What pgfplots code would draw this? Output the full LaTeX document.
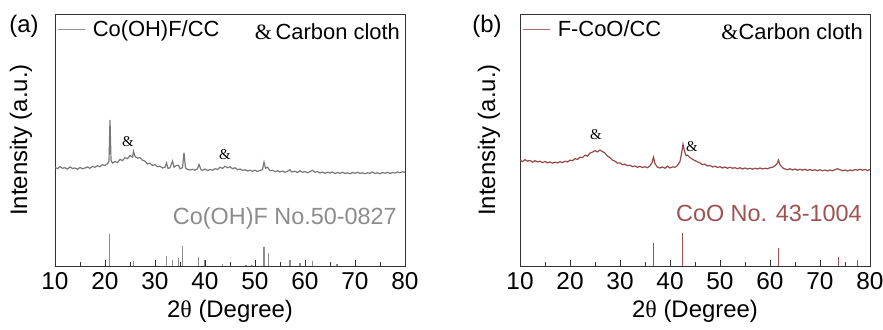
\documentclass[border=0pt]{standalone}
\usepackage{fontspec}
\setmainfont{Liberation Sans}
\newfontfamily\seriff{Liberation Serif}
\usepackage{pgfplots}
\pgfplotsset{compat=1.18}
\definecolor{cgray}{RGB}{120,120,120}
\definecolor{tgray}{RGB}{140,140,140}
\definecolor{cbrown}{RGB}{150,72,72}
\definecolor{tbrown}{RGB}{158,82,82}
\definecolor{axc}{RGB}{50,50,50}
\pgfplotsset{xrd/.style={
  scale only axis, width=350bp, height=252bp,
  xmin=10, xmax=80, ymin=0, ymax=100,
  ytick=\empty, xtick={10,20,...,80}, minor x tick num=1,
  xtick pos=bottom, tick align=inside,
  major tick length=6bp, minor tick length=3.5bp,
  axis line style={axc, line width=0.8pt},
  every tick/.style={axc, line width=0.8pt},
  /pgf/number format/assume math mode=true,
  tick label style={font=\fontsize{24.5}{24.5}\selectfont, text=black},
  xticklabel style={yshift=-3bp},
  xlabel={2{\seriff θ} (Degree)},
  xlabel style={font=\fontsize{24}{24}\selectfont, yshift=-4bp},
  ylabel={Intensity (a.u.)},
  ylabel style={font=\fontsize{24}{24}\selectfont, anchor=center},
  legend style={draw=none, fill=none, font=\fontsize{22}{22}\selectfont,
    at={(axis description cs:0.005,0.985)}, anchor=north west, inner sep=1pt},
  legend image code/.code={\draw[#1, line width=0.5pt, opacity=0.8] (2bp,0bp) -- (29bp,0bp); \path (34bp,0bp);},
}}
\begin{document}
\begin{tikzpicture}
\useasboundingbox (0,0) rectangle (883bp,330bp);
\begin{axis}[xrd, at={(55bp,64bp)}, anchor=south west,
  ylabel style={at={(axis description cs:-0.097,0.5)}}]
\addplot[cgray, line width=1.2pt] coordinates {
(10,39.2)(10.5,38.6)(11,39.4)(11.5,38.8)(12,39.0)(12.5,38.5)(13,39.3)(13.5,38.7)(14,38.9)(14.5,38.4)
(15,39.1)(15.5,38.6)(16,38.9)(16.5,39.3)(17,38.8)(17.5,39.5)(18,39.2)(18.5,39.8)(19,39.4)(19.5,40.2)
(20,39.9)(20.5,40.6)(20.8,41.5)(21.0,58.0)(21.2,42.0)(21.5,40.8)(22,41.5)(22.5,41.0)(23,42.3)(23.5,41.8)
(24,43.0)(24.5,42.6)(25,43.8)(25.5,43.2)(25.7,45.5)(26,43.5)(26.5,42.8)(27,43.0)(27.5,42.0)(28,41.6)
(28.5,40.5)(29,40.8)(29.5,39.9)(30,40.2)(30.5,39.4)(31,39.6)(31.5,38.9)(32,39.2)(32.3,40.9)(32.6,38.7)
(33,39.0)(33.5,41.6)(33.8,39.2)(34.2,39.8)(34.7,40.0)(35,38.6)(35.5,39.0)(35.8,45.0)(36.1,38.9)(36.5,38.3)
(37,38.1)(37.5,38.4)(38,38.0)(38.5,38.6)(38.8,40.3)(39.2,38.2)(39.6,38.0)(40,38.5)(40.5,37.9)(41,38.3)
(41.5,38.0)(42,38.6)(42.5,38.3)(43,39.2)(43.5,38.7)(44,39.6)(44.5,39.0)(45,39.4)(45.5,38.6)(46,39.0)
(46.5,38.2)(47,38.5)(47.5,37.9)(48,38.2)(48.5,37.7)(49,38.0)(49.5,37.6)(50,38.0)(50.5,37.5)(51,37.9)
(51.5,38.2)(51.8,41.2)(52.1,38.8)(52.5,39.2)(52.8,38.4)(53,37.8)(53.5,38.0)(54,37.4)(54.5,37.8)(55,37.3)
(55.5,37.7)(56,37.2)(56.5,37.6)(57,38.2)(57.3,37.3)(58,37.6)(58.5,37.1)(59,37.8)(59.5,37.2)(60,37.5)
(60.5,37.0)(61,37.4)(61.5,38.0)(62,37.2)(62.5,37.5)(63,36.9)(63.5,37.3)(64,36.8)(64.5,37.2)(65,36.9)
(65.5,37.3)(66,36.7)(66.5,37.1)(67,36.8)(67.5,37.2)(68,36.7)(68.5,37.0)(69,36.6)(69.5,37.1)(70,36.8)
(70.5,37.2)(71,36.7)(71.5,37.0)(72,36.6)(72.5,37.0)(73,36.8)(73.5,37.3)(74,36.7)(74.5,37.0)(75,36.6)
(75.5,37.1)(76,36.8)(76.5,37.2)(77,36.7)(77.5,37.1)(78,36.9)(78.5,37.3)(79,37.0)(79.5,37.4)(80,37.2)
};
\addlegendentry{Co(OH)F/CC}
\addplot[tgray, ycomb, line width=1.2pt, forget plot] coordinates {
(20.9,12.7)(25.7,2.0)(32.3,4.1)(33.5,2.4)(34.7,3.3)(35.5,7.9)(38.7,3.7)(39.9,2.4)(43.5,0.8)
(48.2,0.5)(49.4,0.5)(51.8,7.7)(52.7,5.3)(57.0,2.4)(59.0,1.3)(61.5,2.1)(66.4,0.7)
};
\node[font=\seriff\fontsize{15}{15}\selectfont] at (axis cs:24.6,49.2) {\&};
\node[font=\seriff\fontsize{15}{15}\selectfont] at (axis cs:44,44.4) {\&};
\node[anchor=east, font=\fontsize{22}{22}\selectfont, inner sep=0pt] at (axis description cs:0.986,0.929) {{\seriff\&}\,Carbon cloth};
\node[anchor=east, text=tgray, font=\fontsize{23.5}{23.5}\selectfont, inner sep=0pt] at (axis cs:78.4,19) {Co(OH)F No.50-0827};
\end{axis}
\node[font=\fontsize{24}{24}\selectfont] at (24bp,304bp) {(a)};
\begin{axis}[xrd, at={(520bp,64bp)}, anchor=south west,
  ylabel style={at={(axis description cs:-0.089,0.5)}}]
\addplot[cbrown, line width=1.2pt] coordinates {
(10,42.0)(10.5,41.4)(11,42.2)(11.5,41.6)(12,41.9)(12.5,41.2)(13,41.8)(13.5,41.3)(14,41.6)(14.5,41.0)
(15,41.5)(15.5,40.9)(16,41.3)(16.5,40.8)(17,41.2)(17.5,40.9)(18,41.4)(18.5,41.0)(19,41.6)(19.5,41.3)
(20,42.0)(20.5,41.8)(21,42.6)(21.5,42.3)(22,43.2)(22.5,43.0)(23,44.0)(23.5,43.6)(24,44.8)(24.5,45.2)
(25,45.8)(25.5,45.3)(26,46.0)(26.5,45.4)(27,44.8)(27.5,43.6)(28,43.0)(28.5,42.0)(29,41.6)(29.5,40.8)
(30,40.9)(30.5,40.2)(31,40.4)(31.5,39.8)(32,40.0)(32.5,39.4)(33,39.7)(33.5,39.2)(34,39.5)(34.5,39.1)
(35,39.4)(35.5,39.0)(36,39.8)(36.4,41.0)(36.7,43.2)(37.0,40.6)(37.5,39.2)(38,38.9)(38.5,39.3)(39,38.8)
(39.5,39.6)(40,38.9)(40.5,39.3)(41,39.2)(41.5,39.9)(42,41.5)(42.3,44.5)(42.6,48.3)(42.9,45.5)(43.2,43.8)
(43.5,44.0)(44,43.0)(44.5,42.4)(45,41.8)(45.5,41.3)(46,40.9)(46.5,40.2)(47,40.4)(47.5,39.7)(48,39.9)
(48.5,39.3)(49,39.6)(49.5,39.1)(50,39.4)(50.5,38.9)(51,39.3)(51.5,38.8)(52,39.2)(52.5,38.8)(53,39.0)
(53.5,38.6)(54,39.0)(54.5,38.5)(55,38.9)(55.5,38.5)(56,38.8)(56.5,38.4)(57,38.8)(57.5,38.5)(58,38.9)
(58.5,38.5)(59,38.8)(59.5,38.6)(60,39.0)(60.5,39.2)(61,39.8)(61.4,40.6)(61.7,42.0)(62.0,40.2)(62.5,39.0)
(63,38.5)(63.5,38.2)(64,38.6)(64.5,38.1)(65,38.5)(65.5,38.0)(66,38.4)(66.5,38.0)(67,38.4)(67.5,37.9)
(68,38.3)(68.5,37.9)(69,38.2)(69.5,37.8)(70,38.2)(70.5,37.8)(71,38.1)(71.5,37.7)(72,38.1)(72.5,37.8)
(73,38.2)(73.5,38.6)(74,38.2)(74.5,37.8)(75,38.1)(75.5,37.7)(76,38.1)(76.5,37.8)(77,38.3)(77.5,38.0)
(78,38.4)(78.5,38.0)(79,38.3)(79.5,37.9)(80,38.3)
};
\addlegendentry{F-CoO/CC}
\addplot[tbrown, ycomb, line width=1.2pt, forget plot] coordinates {
(36.7,9.0)(42.5,13.2)(61.7,7.0)(73.7,3.4)(77.5,2.4)
};
\node[font=\seriff\fontsize{15}{15}\selectfont] at (axis cs:25.2,52) {\&};
\node[font=\seriff\fontsize{15}{15}\selectfont] at (axis cs:44.4,47.2) {\&};
\node[anchor=east, font=\fontsize{22}{22}\selectfont, inner sep=0pt] at (axis description cs:0.98,0.929) {{\seriff\&}Carbon cloth};
\node[anchor=east, text=tbrown, font=\fontsize{23.5}{23.5}\selectfont, inner sep=0pt] at (axis cs:78.4,21) {CoO No. 43-1004};
\end{axis}
\node[font=\fontsize{24}{24}\selectfont] at (487bp,304bp) {(b)};
\end{tikzpicture}
\end{document}
